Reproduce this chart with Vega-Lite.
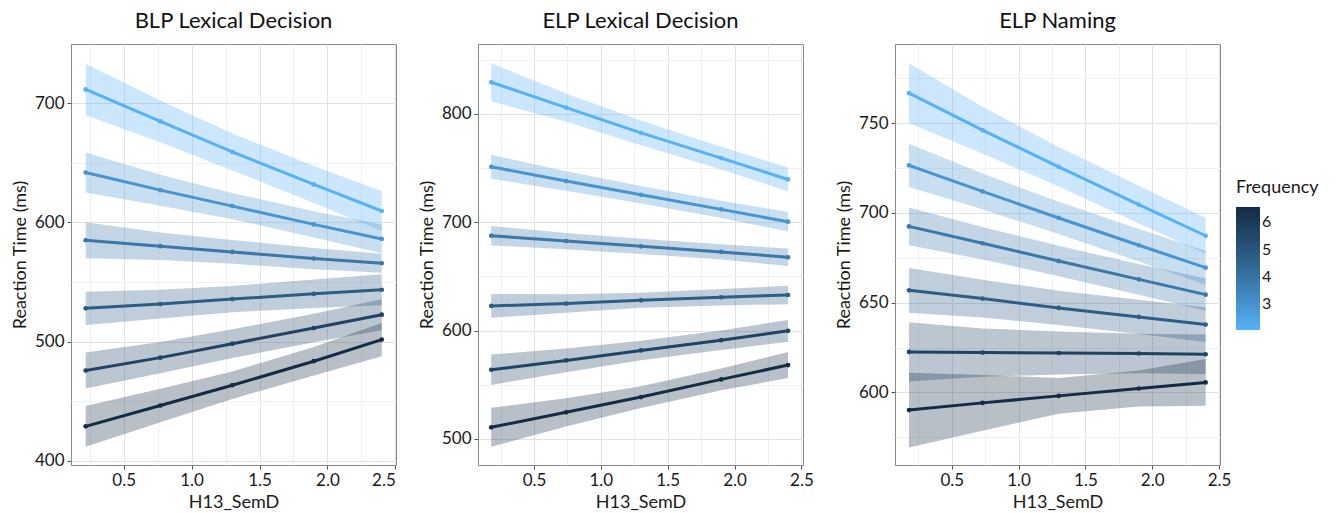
{
  "$schema": "https://vega.github.io/schema/vega-lite/v6.json",
  "padding": {"left": 10, "top": 9, "right": 5, "bottom": 5},
  "spacing": 20,
  "config": {
    "font": "Lato",
    "view": {"stroke": "#888888", "strokeWidth": 1},
    "axis": {
      "labelFont": "Lato", "titleFont": "Lato", "labelFontSize": 17, "titleFontSize": 18,
      "titleFontWeight": "normal", "labelColor": "#1a1a1a", "titleColor": "#1a1a1a",
      "domain": false, "tickColor": "#555555", "tickSize": 4, "labelPadding": 3, "titlePadding": 5
    },
    "title": {"font": "Lato", "fontSize": 22, "fontWeight": "normal", "color": "#111111", "anchor": "middle", "frame": "group", "offset": 11},
    "legend": {"titleFont": "Lato", "labelFont": "Lato",
      "gradientLength": 123, "gradientThickness": 24, "gradientStrokeWidth": 0,
      "titleFontSize": 18, "titleFontWeight": "normal", "titleColor": "#1a1a1a", "titlePadding": 10,
      "labelFontSize": 16, "labelColor": "#1a1a1a", "labelOffset": 12}
  },
  "datasets": {
    "d": [
      {"panel": "BLP", "semd": 0.22, "freq": 2.07, "rt": 711.4, "lo": 689.8, "hi": 733.0},
      {"panel": "BLP", "semd": 0.77, "freq": 2.07, "rt": 684.7, "lo": 667.2, "hi": 702.2},
      {"panel": "BLP", "semd": 1.30, "freq": 2.07, "rt": 659.0, "lo": 643.5, "hi": 674.5},
      {"panel": "BLP", "semd": 1.90, "freq": 2.07, "rt": 631.8, "lo": 616.3, "hi": 647.3},
      {"panel": "BLP", "semd": 2.40, "freq": 2.07, "rt": 609.5, "lo": 592.8, "hi": 626.2},
      {"panel": "BLP", "semd": 0.22, "freq": 2.97, "rt": 641.8, "lo": 625.1, "hi": 658.5},
      {"panel": "BLP", "semd": 0.77, "freq": 2.97, "rt": 627.0, "lo": 614.0, "hi": 640.0},
      {"panel": "BLP", "semd": 1.30, "freq": 2.97, "rt": 613.6, "lo": 602.6, "hi": 624.6},
      {"panel": "BLP", "semd": 1.90, "freq": 2.97, "rt": 598.3, "lo": 587.3, "hi": 609.3},
      {"panel": "BLP", "semd": 2.40, "freq": 2.97, "rt": 586.1, "lo": 574.1, "hi": 598.1},
      {"panel": "BLP", "semd": 0.22, "freq": 3.86, "rt": 585.0, "lo": 570.0, "hi": 600.0},
      {"panel": "BLP", "semd": 0.77, "freq": 3.86, "rt": 580.0, "lo": 568.5, "hi": 591.5},
      {"panel": "BLP", "semd": 1.30, "freq": 3.86, "rt": 575.2, "lo": 565.2, "hi": 585.2},
      {"panel": "BLP", "semd": 1.90, "freq": 3.86, "rt": 569.6, "lo": 560.6, "hi": 578.6},
      {"panel": "BLP", "semd": 2.40, "freq": 3.86, "rt": 565.7, "lo": 557.7, "hi": 573.7},
      {"panel": "BLP", "semd": 0.22, "freq": 4.76, "rt": 527.9, "lo": 513.9, "hi": 541.9},
      {"panel": "BLP", "semd": 0.77, "freq": 4.76, "rt": 531.5, "lo": 519.5, "hi": 543.5},
      {"panel": "BLP", "semd": 1.30, "freq": 4.76, "rt": 535.7, "lo": 524.7, "hi": 546.7},
      {"panel": "BLP", "semd": 1.90, "freq": 4.76, "rt": 540.1, "lo": 528.1, "hi": 552.1},
      {"panel": "BLP", "semd": 2.40, "freq": 4.76, "rt": 543.5, "lo": 530.5, "hi": 556.5},
      {"panel": "BLP", "semd": 0.22, "freq": 5.65, "rt": 475.8, "lo": 460.8, "hi": 490.8},
      {"panel": "BLP", "semd": 0.77, "freq": 5.65, "rt": 486.6, "lo": 473.6, "hi": 499.6},
      {"panel": "BLP", "semd": 1.30, "freq": 5.65, "rt": 498.3, "lo": 486.3, "hi": 510.3},
      {"panel": "BLP", "semd": 1.90, "freq": 5.65, "rt": 511.4, "lo": 499.4, "hi": 523.4},
      {"panel": "BLP", "semd": 2.40, "freq": 5.65, "rt": 522.6, "lo": 509.6, "hi": 535.6},
      {"panel": "BLP", "semd": 0.22, "freq": 6.55, "rt": 429.0, "lo": 412.0, "hi": 446.0},
      {"panel": "BLP", "semd": 0.77, "freq": 6.55, "rt": 446.5, "lo": 432.5, "hi": 460.5},
      {"panel": "BLP", "semd": 1.30, "freq": 6.55, "rt": 463.5, "lo": 452.0, "hi": 475.0},
      {"panel": "BLP", "semd": 1.90, "freq": 6.55, "rt": 483.6, "lo": 471.6, "hi": 495.6},
      {"panel": "BLP", "semd": 2.40, "freq": 6.55, "rt": 501.7, "lo": 487.7, "hi": 515.7},

      {"panel": "ELPLD", "semd": 0.18, "freq": 2.07, "rt": 829.2, "lo": 811.6, "hi": 846.8},
      {"panel": "ELPLD", "semd": 0.74, "freq": 2.07, "rt": 805.8, "lo": 792.8, "hi": 818.8},
      {"panel": "ELPLD", "semd": 1.30, "freq": 2.07, "rt": 782.5, "lo": 771.0, "hi": 794.0},
      {"panel": "ELPLD", "semd": 1.90, "freq": 2.07, "rt": 759.2, "lo": 748.7, "hi": 769.7},
      {"panel": "ELPLD", "semd": 2.40, "freq": 2.07, "rt": 739.5, "lo": 728.5, "hi": 750.5},
      {"panel": "ELPLD", "semd": 0.18, "freq": 2.97, "rt": 751.2, "lo": 740.2, "hi": 762.2},
      {"panel": "ELPLD", "semd": 0.74, "freq": 2.97, "rt": 738.0, "lo": 729.0, "hi": 747.0},
      {"panel": "ELPLD", "semd": 1.30, "freq": 2.97, "rt": 725.4, "lo": 717.4, "hi": 733.4},
      {"panel": "ELPLD", "semd": 1.90, "freq": 2.97, "rt": 711.9, "lo": 703.9, "hi": 719.9},
      {"panel": "ELPLD", "semd": 2.40, "freq": 2.97, "rt": 700.5, "lo": 691.5, "hi": 709.5},
      {"panel": "ELPLD", "semd": 0.18, "freq": 3.86, "rt": 687.6, "lo": 678.6, "hi": 696.6},
      {"panel": "ELPLD", "semd": 0.74, "freq": 3.86, "rt": 682.7, "lo": 675.2, "hi": 690.2},
      {"panel": "ELPLD", "semd": 1.30, "freq": 3.86, "rt": 677.8, "lo": 670.8, "hi": 684.8},
      {"panel": "ELPLD", "semd": 1.90, "freq": 3.86, "rt": 672.6, "lo": 665.6, "hi": 679.6},
      {"panel": "ELPLD", "semd": 2.40, "freq": 3.86, "rt": 667.7, "lo": 659.7, "hi": 675.7},
      {"panel": "ELPLD", "semd": 0.18, "freq": 4.76, "rt": 622.8, "lo": 611.8, "hi": 633.8},
      {"panel": "ELPLD", "semd": 0.74, "freq": 4.76, "rt": 625.0, "lo": 616.5, "hi": 633.5},
      {"panel": "ELPLD", "semd": 1.30, "freq": 4.76, "rt": 628.0, "lo": 621.0, "hi": 635.0},
      {"panel": "ELPLD", "semd": 1.90, "freq": 4.76, "rt": 630.8, "lo": 623.3, "hi": 638.3},
      {"panel": "ELPLD", "semd": 2.40, "freq": 4.76, "rt": 632.9, "lo": 624.4, "hi": 641.4},
      {"panel": "ELPLD", "semd": 0.18, "freq": 5.65, "rt": 563.9, "lo": 549.9, "hi": 577.9},
      {"panel": "ELPLD", "semd": 0.74, "freq": 5.65, "rt": 572.5, "lo": 561.5, "hi": 583.5},
      {"panel": "ELPLD", "semd": 1.30, "freq": 5.65, "rt": 581.7, "lo": 572.7, "hi": 590.7},
      {"panel": "ELPLD", "semd": 1.90, "freq": 5.65, "rt": 591.2, "lo": 582.2, "hi": 600.2},
      {"panel": "ELPLD", "semd": 2.40, "freq": 5.65, "rt": 599.8, "lo": 589.8, "hi": 609.8},
      {"panel": "ELPLD", "semd": 0.18, "freq": 6.55, "rt": 510.8, "lo": 492.8, "hi": 528.8},
      {"panel": "ELPLD", "semd": 0.74, "freq": 6.55, "rt": 524.6, "lo": 511.6, "hi": 537.6},
      {"panel": "ELPLD", "semd": 1.30, "freq": 6.55, "rt": 538.7, "lo": 528.7, "hi": 548.7},
      {"panel": "ELPLD", "semd": 1.90, "freq": 6.55, "rt": 555.0, "lo": 545.0, "hi": 565.0},
      {"panel": "ELPLD", "semd": 2.40, "freq": 6.55, "rt": 568.2, "lo": 556.2, "hi": 580.2},

      {"panel": "ELPN", "semd": 0.18, "freq": 2.07, "rt": 766.7, "lo": 750.0, "hi": 783.4},
      {"panel": "ELPN", "semd": 0.73, "freq": 2.07, "rt": 746.1, "lo": 733.1, "hi": 759.1},
      {"panel": "ELPN", "semd": 1.30, "freq": 2.07, "rt": 725.7, "lo": 714.7, "hi": 736.7},
      {"panel": "ELPN", "semd": 1.90, "freq": 2.07, "rt": 704.6, "lo": 694.1, "hi": 715.1},
      {"panel": "ELPN", "semd": 2.40, "freq": 2.07, "rt": 687.3, "lo": 677.3, "hi": 697.3},
      {"panel": "ELPN", "semd": 0.18, "freq": 2.97, "rt": 726.5, "lo": 714.5, "hi": 738.5},
      {"panel": "ELPN", "semd": 0.73, "freq": 2.97, "rt": 712.0, "lo": 702.0, "hi": 722.0},
      {"panel": "ELPN", "semd": 1.30, "freq": 2.97, "rt": 697.2, "lo": 688.2, "hi": 706.2},
      {"panel": "ELPN", "semd": 1.90, "freq": 2.97, "rt": 682.0, "lo": 673.0, "hi": 691.0},
      {"panel": "ELPN", "semd": 2.40, "freq": 2.97, "rt": 669.5, "lo": 660.0, "hi": 679.0},
      {"panel": "ELPN", "semd": 0.18, "freq": 3.86, "rt": 692.5, "lo": 682.0, "hi": 703.0},
      {"panel": "ELPN", "semd": 0.73, "freq": 3.86, "rt": 683.1, "lo": 674.1, "hi": 692.1},
      {"panel": "ELPN", "semd": 1.30, "freq": 3.86, "rt": 673.2, "lo": 664.7, "hi": 681.7},
      {"panel": "ELPN", "semd": 1.90, "freq": 3.86, "rt": 663.0, "lo": 654.5, "hi": 671.5},
      {"panel": "ELPN", "semd": 2.40, "freq": 3.86, "rt": 654.5, "lo": 645.5, "hi": 663.5},
      {"panel": "ELPN", "semd": 0.18, "freq": 4.76, "rt": 656.9, "lo": 644.4, "hi": 669.4},
      {"panel": "ELPN", "semd": 0.73, "freq": 4.76, "rt": 652.3, "lo": 641.8, "hi": 662.8},
      {"panel": "ELPN", "semd": 1.30, "freq": 4.76, "rt": 647.1, "lo": 637.6, "hi": 656.6},
      {"panel": "ELPN", "semd": 1.90, "freq": 4.76, "rt": 642.1, "lo": 632.6, "hi": 651.6},
      {"panel": "ELPN", "semd": 2.40, "freq": 4.76, "rt": 637.8, "lo": 628.1, "hi": 647.5},
      {"panel": "ELPN", "semd": 0.18, "freq": 5.65, "rt": 622.6, "lo": 606.1, "hi": 639.1},
      {"panel": "ELPN", "semd": 0.73, "freq": 5.65, "rt": 622.2, "lo": 608.7, "hi": 635.7},
      {"panel": "ELPN", "semd": 1.30, "freq": 5.65, "rt": 622.0, "lo": 610.0, "hi": 634.0},
      {"panel": "ELPN", "semd": 1.90, "freq": 5.65, "rt": 621.7, "lo": 610.7, "hi": 632.7},
      {"panel": "ELPN", "semd": 2.40, "freq": 5.65, "rt": 621.3, "lo": 610.3, "hi": 632.3},
      {"panel": "ELPN", "semd": 0.18, "freq": 6.55, "rt": 590.2, "lo": 569.4, "hi": 611.0},
      {"panel": "ELPN", "semd": 0.73, "freq": 6.55, "rt": 594.2, "lo": 578.7, "hi": 609.7},
      {"panel": "ELPN", "semd": 1.30, "freq": 6.55, "rt": 598.1, "lo": 588.1, "hi": 608.1},
      {"panel": "ELPN", "semd": 1.90, "freq": 6.55, "rt": 602.2, "lo": 592.2, "hi": 612.2},
      {"panel": "ELPN", "semd": 2.40, "freq": 6.55, "rt": 605.6, "lo": 592.6, "hi": 618.6}
    ]
  },
  "hconcat": [
    {
      "title": "BLP Lexical Decision",
      "width": 325, "height": 421,
      "data": {"name": "d"},
      "transform": [{"filter": "datum.panel === 'BLP'"}],
      "encoding": {
        "x": {"field": "semd", "type": "quantitative", "title": "H13_SemD",
          "scale": {"domain": [0.112, 2.505], "nice": false, "zero": false},
          "axis": {"values": [0.25, 0.5, 0.75, 1, 1.25, 1.5, 1.75, 2, 2.25, 2.5],
            "labelExpr": "abs(datum.value*2 - round(datum.value*2)) < 0.001 ? format(datum.value, '.1f') : ''",
            "gridColor": {"condition": {"test": "abs(datum.value*2 - round(datum.value*2)) < 0.001", "value": "#e2e2e2"}, "value": "#f1f1f1"},
            "tickOpacity": {"condition": {"test": "abs(datum.value*2 - round(datum.value*2)) < 0.001", "value": 1}, "value": 0}}},
        "y": {"field": "rt", "type": "quantitative", "title": "Reaction Time (ms)",
          "scale": {"domain": [396.6, 749.5], "nice": false, "zero": false},
          "axis": {"values": [400, 450, 500, 550, 600, 650, 700],
            "labelExpr": "datum.value % 100 === 0 ? datum.value : ''",
            "gridColor": {"condition": {"test": "datum.value % 100 === 0", "value": "#e2e2e2"}, "value": "#f1f1f1"},
            "tickOpacity": {"condition": {"test": "datum.value % 100 === 0", "value": 1}, "value": 0}}}
      },
      "layer": [
        {"mark": {"type": "area", "opacity": 0.3}, "encoding": {"y": {"field": "lo", "type": "quantitative"}, "y2": {"field": "hi"}, "detail": {"field": "freq"},
          "fill": {"field": "freq", "type": "quantitative", "scale": {"domain": [2.07, 6.5501], "range": ["#56B1F7", "#132B43"], "interpolate": "lab"}, "legend": null}}},
        {"mark": {"type": "line", "strokeWidth": 3}, "encoding": {"detail": {"field": "freq"},
          "stroke": {"field": "freq", "type": "quantitative", "title": "Frequency", "scale": {"domain": [2.07, 6.55], "range": ["#56B1F7", "#132B43"], "interpolate": "lab"},
            "legend": {"type": "gradient", "orient": "none", "direction": "vertical", "legendX": 1165, "legendY": 135, "values": [3, 4, 5, 6]}}}},
        {"mark": {"type": "circle", "size": 22, "opacity": 1}, "encoding": {
          "fill": {"field": "freq", "type": "quantitative", "scale": {"domain": [2.07, 6.5501], "range": ["#56B1F7", "#132B43"], "interpolate": "lab"}, "legend": null}}}
      ]
    },
    {
      "title": "ELP Lexical Decision",
      "width": 325, "height": 421,
      "data": {"name": "d"},
      "transform": [{"filter": "datum.panel === 'ELPLD'"}],
      "encoding": {
        "x": {"field": "semd", "type": "quantitative", "title": "H13_SemD",
          "scale": {"domain": [0.081, 2.512], "nice": false, "zero": false},
          "axis": {"values": [0.25, 0.5, 0.75, 1, 1.25, 1.5, 1.75, 2, 2.25, 2.5],
            "labelExpr": "abs(datum.value*2 - round(datum.value*2)) < 0.001 ? format(datum.value, '.1f') : ''",
            "gridColor": {"condition": {"test": "abs(datum.value*2 - round(datum.value*2)) < 0.001", "value": "#e2e2e2"}, "value": "#f1f1f1"},
            "tickOpacity": {"condition": {"test": "abs(datum.value*2 - round(datum.value*2)) < 0.001", "value": 1}, "value": 0}}},
        "y": {"field": "rt", "type": "quantitative", "title": "Reaction Time (ms)",
          "scale": {"domain": [476, 864.5], "nice": false, "zero": false},
          "axis": {"values": [500, 550, 600, 650, 700, 750, 800, 850],
            "labelExpr": "datum.value % 100 === 0 ? datum.value : ''",
            "gridColor": {"condition": {"test": "datum.value % 100 === 0", "value": "#e2e2e2"}, "value": "#f1f1f1"},
            "tickOpacity": {"condition": {"test": "datum.value % 100 === 0", "value": 1}, "value": 0}}}
      },
      "layer": [
        {"mark": {"type": "area", "opacity": 0.3}, "encoding": {"y": {"field": "lo", "type": "quantitative"}, "y2": {"field": "hi"}, "detail": {"field": "freq"},
          "fill": {"field": "freq", "type": "quantitative", "scale": {"domain": [2.07, 6.5501], "range": ["#56B1F7", "#132B43"], "interpolate": "lab"}, "legend": null}}},
        {"mark": {"type": "line", "strokeWidth": 3}, "encoding": {"detail": {"field": "freq"},
          "stroke": {"field": "freq", "type": "quantitative", "title": "Frequency", "scale": {"domain": [2.07, 6.55], "range": ["#56B1F7", "#132B43"], "interpolate": "lab"},
            "legend": {"type": "gradient", "orient": "none", "direction": "vertical", "legendX": 1165, "legendY": 135, "values": [3, 4, 5, 6]}}}},
        {"mark": {"type": "circle", "size": 22, "opacity": 1}, "encoding": {
          "fill": {"field": "freq", "type": "quantitative", "scale": {"domain": [2.07, 6.5501], "range": ["#56B1F7", "#132B43"], "interpolate": "lab"}, "legend": null}}}
      ]
    },
    {
      "title": "ELP Naming",
      "width": 325, "height": 421,
      "data": {"name": "d"},
      "transform": [{"filter": "datum.panel === 'ELPN'"}],
      "encoding": {
        "x": {"field": "semd", "type": "quantitative", "title": "H13_SemD",
          "scale": {"domain": [0.075, 2.5075], "nice": false, "zero": false},
          "axis": {"values": [0.25, 0.5, 0.75, 1, 1.25, 1.5, 1.75, 2, 2.25, 2.5],
            "labelExpr": "abs(datum.value*2 - round(datum.value*2)) < 0.001 ? format(datum.value, '.1f') : ''",
            "gridColor": {"condition": {"test": "abs(datum.value*2 - round(datum.value*2)) < 0.001", "value": "#e2e2e2"}, "value": "#f1f1f1"},
            "tickOpacity": {"condition": {"test": "abs(datum.value*2 - round(datum.value*2)) < 0.001", "value": 1}, "value": 0}}},
        "y": {"field": "rt", "type": "quantitative", "title": "Reaction Time (ms)",
          "scale": {"domain": [559.6, 794.1], "nice": false, "zero": false},
          "axis": {"values": [575, 600, 625, 650, 675, 700, 725, 750, 775],
            "labelExpr": "datum.value % 50 === 0 ? datum.value : ''",
            "gridColor": {"condition": {"test": "datum.value % 50 === 0", "value": "#e2e2e2"}, "value": "#f1f1f1"},
            "tickOpacity": {"condition": {"test": "datum.value % 50 === 0", "value": 1}, "value": 0}}}
      },
      "layer": [
        {"mark": {"type": "area", "opacity": 0.3}, "encoding": {"y": {"field": "lo", "type": "quantitative"}, "y2": {"field": "hi"}, "detail": {"field": "freq"},
          "fill": {"field": "freq", "type": "quantitative", "scale": {"domain": [2.07, 6.5501], "range": ["#56B1F7", "#132B43"], "interpolate": "lab"}, "legend": null}}},
        {"mark": {"type": "line", "strokeWidth": 3}, "encoding": {"detail": {"field": "freq"},
          "stroke": {"field": "freq", "type": "quantitative", "title": "Frequency", "scale": {"domain": [2.07, 6.55], "range": ["#56B1F7", "#132B43"], "interpolate": "lab"},
            "legend": {"type": "gradient", "orient": "none", "direction": "vertical", "legendX": 1165, "legendY": 135, "values": [3, 4, 5, 6]}}}},
        {"mark": {"type": "circle", "size": 22, "opacity": 1}, "encoding": {
          "fill": {"field": "freq", "type": "quantitative", "scale": {"domain": [2.07, 6.5501], "range": ["#56B1F7", "#132B43"], "interpolate": "lab"}, "legend": null}}}
      ]
    }
  ]
}
